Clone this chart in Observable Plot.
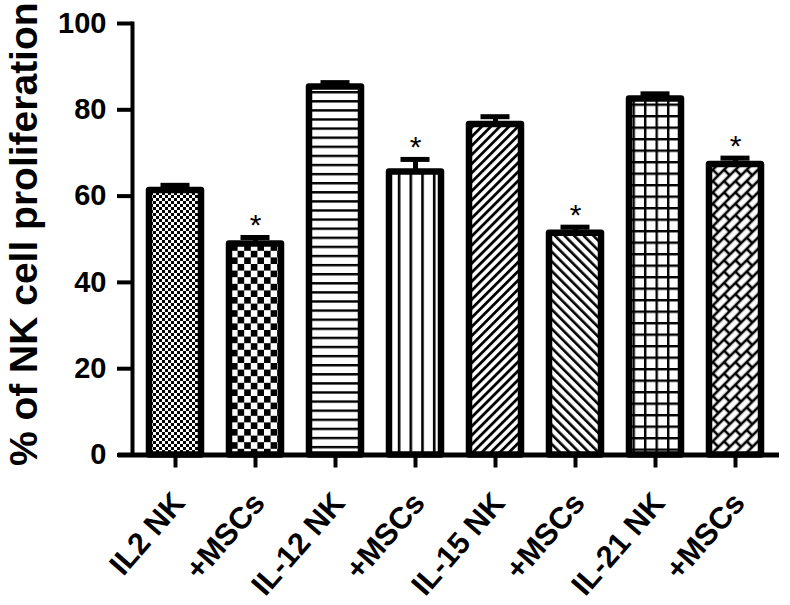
<!DOCTYPE html>
<html>
<head>
<meta charset="utf-8">
<script src="https://cdn.jsdelivr.net/npm/d3@7"></script>
<script src="https://cdn.jsdelivr.net/npm/@observablehq/plot@0.6"></script>
<style>
  body { margin: 0; background: #fff; }
  svg { display: block; }
</style>
</head>
<body>
<div id="chart"></div>
<script>
// ---- data ----
const keys = ["IL2", "IL2+MSC", "IL12", "IL12+MSC", "IL15", "IL15+MSC", "IL21", "IL21+MSC"];
const tickLabels = ["IL2 NK", "+MSCs", "IL-12 NK", "+MSCs", "IL-15 NK", "+MSCs", "IL-21 NK", "+MSCs"];
const values = [61.3, 48.9, 85.3, 65.6, 76.6, 51.4, 82.5, 67.3];
const errors = [1.2, 1.5, 1.0, 2.9, 1.8, 1.4, 1.2, 1.5];
const significant = [false, true, false, true, false, true, false, true];
const yTicks = [0, 20, 40, 60, 80, 100];
const yLabel = "% of NK cell proliferation";

const data = keys.map((k, i) => ({
  key: k, label: tickLabels[i], value: values[i], err: errors[i],
  top: values[i] + errors[i], sig: significant[i], pattern: `url(#pat${i})`
}));

const font = "'Liberation Sans', Arial, Helvetica, sans-serif";

const svg = Plot.plot({
  width: 790,
  height: 605,
  marginLeft: 132,
  marginRight: 11,
  marginTop: 23,
  marginBottom: 150.5,
  style: { fontFamily: font, background: "#fff", overflow: "visible" },
  x: { domain: keys, paddingInner: 0.345, paddingOuter: 0.171, align: 0.5 },
  y: { domain: [0, 100] },
  color: { type: "identity" },
  marks: [
    Plot.barY(data, { x: "key", y: "value", fill: d => d.pattern, stroke: "black", strokeWidth: 6.5, strokeLinejoin: "round" }),
    Plot.ruleX(data, { x: "key", y1: "value", y2: "top", stroke: "black", strokeWidth: 5 }),
    Plot.tickY(data, { x: "key", y: "top", stroke: "black", strokeWidth: 5, insetLeft: 11.5, insetRight: 11.5 }),
    Plot.text(data.filter(d => d.sig), { x: "key", y: "top", text: () => "*", dy: -12, fontSize: 30, lineAnchor: "middle", fill: "black" }),
    Plot.frame({ anchor: "left", stroke: "black", strokeWidth: 4 }),
    Plot.ruleY([0], { stroke: "black", strokeWidth: 5, insetLeft: -14 }),
    Plot.axisY(yTicks, { tickSize: 15, tickPadding: 11, fontSize: 29, fontWeight: "bold", strokeWidth: 4, label: null, fill: "black", stroke: "black" }),
    Plot.axisX({ tickSize: 13, strokeWidth: 4, tickFormat: () => "", label: null, stroke: "black" }),
    Plot.text(data, { x: "key", text: "label", frameAnchor: "bottom", rotate: -49, textAnchor: "end", lineAnchor: "bottom", dx: 11, dy: 49, fontSize: 30.5, fontWeight: "bold", fill: "black" }),
    Plot.text([yLabel], { frameAnchor: "left", textAnchor: "middle", rotate: -90, dx: -96, dy: -5, lineAnchor: "bottom", fontSize: 39, fontWeight: "bold", fill: "black" })
  ]
});

// ---- fill patterns ----
const defs = d3.select(svg).insert("defs", ":first-child");
function pat(id, w, h, transform) {
  const p = defs.append("pattern").attr("id", id).attr("patternUnits", "userSpaceOnUse")
    .attr("width", w).attr("height", h);
  if (transform) p.attr("patternTransform", transform);
  return p;
}
// 0: fine checkerboard
let p = pat("pat0", 6, 6);
p.append("rect").attr("width", 6).attr("height", 6).attr("fill", "#fff");
p.append("rect").attr("width", 3).attr("height", 3).attr("fill", "#000");
p.append("rect").attr("x", 3).attr("y", 3).attr("width", 3).attr("height", 3).attr("fill", "#000");
// 1: coarse checkerboard
p = pat("pat1", 13.2, 13.2);
p.append("rect").attr("width", 13.2).attr("height", 13.2).attr("fill", "#fff");
p.append("rect").attr("width", 6.6).attr("height", 6.6).attr("fill", "#000");
p.append("rect").attr("x", 6.6).attr("y", 6.6).attr("width", 6.6).attr("height", 6.6).attr("fill", "#000");
// 2: horizontal lines
p = pat("pat2", 10, 9.1);
p.append("rect").attr("width", 10).attr("height", 9.1).attr("fill", "#fff");
p.append("rect").attr("width", 10).attr("height", 2.4).attr("fill", "#000");
// 3: vertical lines
p = pat("pat3", 11.7, 10);
p.append("rect").attr("width", 11.7).attr("height", 10).attr("fill", "#fff");
p.append("rect").attr("width", 2.6).attr("height", 10).attr("fill", "#000");
// 4: forward diagonal
p = pat("pat4", 6.4, 10, "rotate(45)");
p.append("rect").attr("width", 6.4).attr("height", 10).attr("fill", "#fff");
p.append("rect").attr("width", 2.8).attr("height", 10).attr("fill", "#000");
// 5: backward diagonal
p = pat("pat5", 6.8, 10, "rotate(-45)");
p.append("rect").attr("width", 6.8).attr("height", 10).attr("fill", "#fff");
p.append("rect").attr("width", 2.6).attr("height", 10).attr("fill", "#000");
// 6: grid
p = pat("pat6", 11.5, 11.5);
p.append("rect").attr("width", 11.5).attr("height", 11.5).attr("fill", "#fff");
p.append("rect").attr("width", 2.4).attr("height", 11.5).attr("fill", "#000");
p.append("rect").attr("width", 11.5).attr("height", 2.4).attr("fill", "#000");
// 7: diagonal bricks
p = pat("pat7", 16, 16, "rotate(-45)");
p.append("rect").attr("width", 16).attr("height", 16).attr("fill", "#000");
p.append("rect").attr("x", 1.3).attr("y", 1.3).attr("width", 13.4).attr("height", 5.4).attr("fill", "#fff");
p.append("rect").attr("x", 9.3).attr("y", 9.3).attr("width", 13.4).attr("height", 5.4).attr("fill", "#fff");
p.append("rect").attr("x", -6.7).attr("y", 9.3).attr("width", 13.4).attr("height", 5.4).attr("fill", "#fff");

document.getElementById("chart").appendChild(svg);
</script>
</body>
</html>
